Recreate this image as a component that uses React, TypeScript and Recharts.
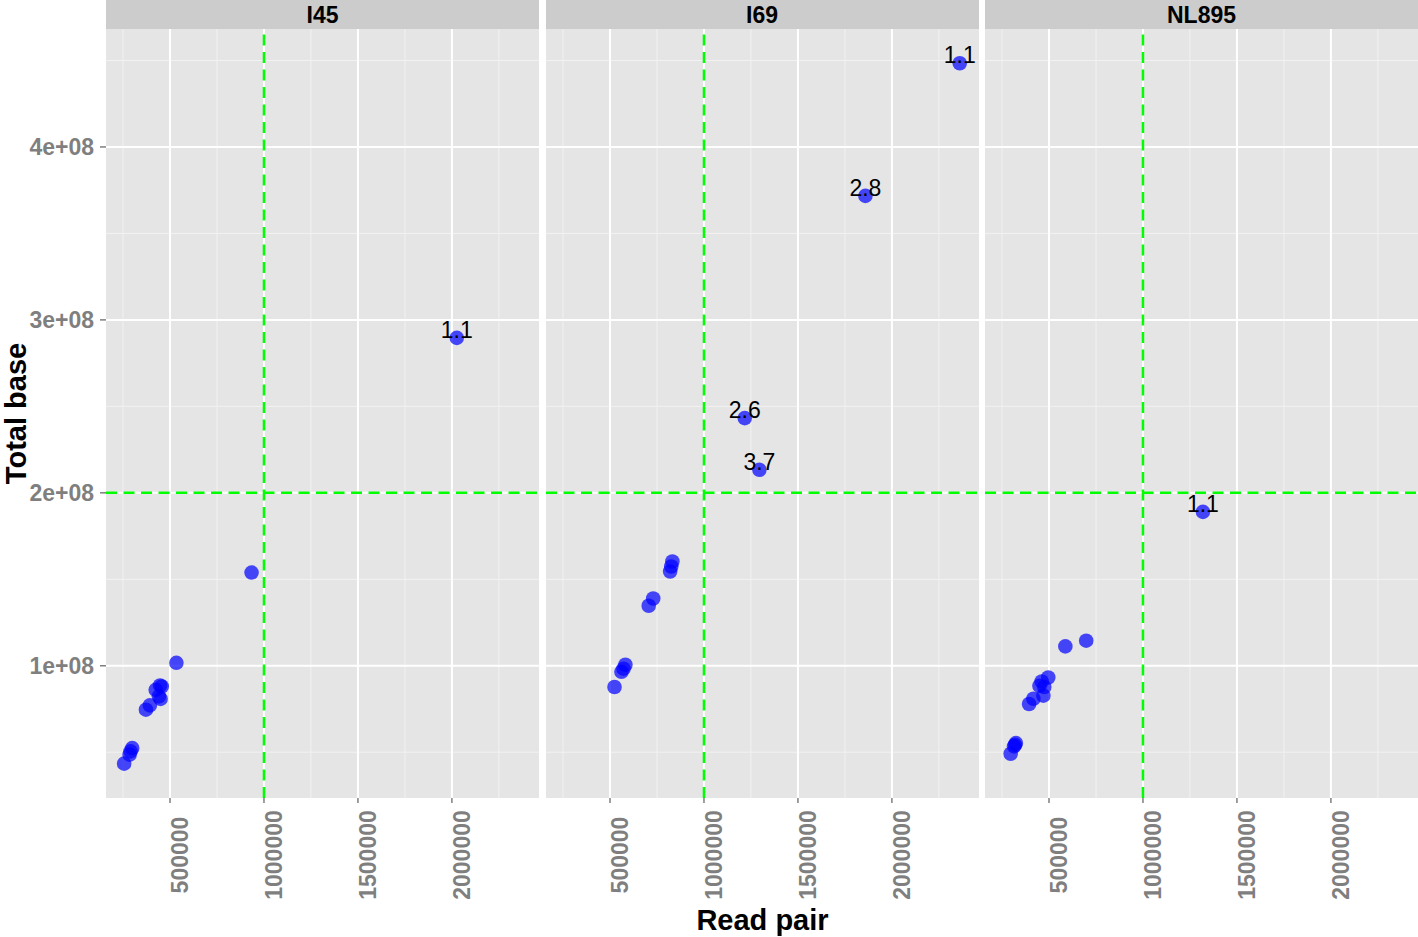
import { CartesianGrid, Label, ReferenceLine, Scatter, ScatterChart, XAxis, YAxis } from "recharts"

const FONT = '"Liberation Sans", Arial, Helvetica, sans-serif'

// ── Facets ────────────────────────────────────────────────────────
const facetNames = ["I45", "I69", "NL895"]

const i45ReadPair = [256000, 285000, 290000, 299000, 372000, 393000, 424000, 447000, 456000, 441000, 450000, 534000, 934000, 2026000]
const i45TotalBase = [43400000, 48600000, 50500000, 52400000, 74600000, 77100000, 86100000, 88600000, 88000000, 82300000, 80800000, 101700000, 153900000, 289600000]
const i45Labels = ["", "", "", "", "", "", "", "", "", "", "", "", "", "1.1"]

const i69ReadPair = [524000, 561000, 572000, 582000, 706000, 730000, 820000, 826000, 832000, 1217000, 1295000, 1859000, 2361000]
const i69TotalBase = [87700000, 96500000, 98300000, 100600000, 134700000, 138900000, 154500000, 157400000, 160300000, 243200000, 213300000, 371700000, 448400000]
const i69Labels = ["", "", "", "", "", "", "", "", "", "2.6", "3.7", "2.8", "1.1"]

const nl895ReadPair = [296000, 314000, 319000, 324000, 394000, 417000, 449000, 461000, 470000, 475000, 496000, 587000, 698000, 1319000]
const nl895TotalBase = [49100000, 53400000, 54300000, 55300000, 77900000, 80900000, 88400000, 90900000, 82700000, 87700000, 93200000, 111200000, 114500000, 189000000]
const nl895Labels = ["", "", "", "", "", "", "", "", "", "", "", "", "", "1.1"]

// ── Axes ──────────────────────────────────────────────────────────
const xDomain = [159450, 2463450]
const yDomain = [23530000, 468200000]
const xTicks = [500000, 1000000, 1500000, 2000000]
const xMinor = [250000, 750000, 1250000, 1750000, 2250000]
const yTicks = [100000000, 200000000, 300000000, 400000000]
const yTickLabels = ["1e+08", "2e+08", "3e+08", "4e+08"]
const yMinor = [50000000, 150000000, 250000000, 350000000, 450000000]
const xCutoff = 1000000
const yCutoff = 200000000

const buildPoints = (xs: number[], ys: number[], labels: string[]) =>
    xs.map((x, i) => ({ x, y: ys[i], label: labels[i] }))

const facetData = [
    buildPoints(i45ReadPair, i45TotalBase, i45Labels),
    buildPoints(i69ReadPair, i69TotalBase, i69Labels),
    buildPoints(nl895ReadPair, nl895TotalBase, nl895Labels),
]

// panel left positions (page px) and plot width
const PANEL_LEFT = [106, 545.5, 985]
const PANEL_W = 433
const TOP = 29
const X_AXIS_H = 139
const H = 937

const renderDot = (props: any) => {
    const { cx, cy, payload } = props
    return (
        <g>
            <circle cx={cx} cy={cy} r={7.3} fill="#0000ff" fillOpacity={0.7} />
            {payload.label ? (
                <text x={cx} y={cy} textAnchor="middle" fontSize={23} fontFamily={FONT} fill="#000">
                    {payload.label}
                </text>
            ) : null}
        </g>
    )
}

const XTick = (props: any) => {
    const { x, y, payload } = props
    const cy = y + 50
    return (
        <text
            x={x}
            y={cy}
            dy={18}
            transform={`rotate(-90, ${x}, ${cy})`}
            textAnchor="middle"
            fill="#7f7f7f"
            fontSize={23}
            fontWeight="bold"
            fontFamily={FONT}
        >
            {payload.value}
        </text>
    )
}

function Panel({ index }: { index: number }) {
    const first = index === 0
    const left = first ? 0 : PANEL_LEFT[index]
    const width = first ? PANEL_LEFT[0] + PANEL_W : PANEL_W
    return (
        <div style={{ position: "absolute", left, top: 0, width, height: H }}>
            <ScatterChart width={width} height={H} margin={{ top: TOP, right: 0, bottom: 0, left: 0 }}>
                <CartesianGrid horizontal={false} vertical={false} fill="#e5e5e5" fillOpacity={1} />
                <XAxis
                    type="number"
                    dataKey="x"
                    domain={xDomain}
                    ticks={xTicks}
                    allowDataOverflow
                    height={X_AXIS_H}
                    axisLine={false}
                    tickLine={{ stroke: "#7f7f7f", strokeWidth: 1.5 }}
                    tickSize={5}
                    tick={<XTick />}
                    interval={0}
                >
                    {index === 1 ? (
                        <Label
                            value="Read pair"
                            position="insideBottom"
                            offset={7}
                            style={{ fontSize: 29, fontWeight: "bold", fontFamily: FONT, fill: "#000" }}
                        />
                    ) : null}
                </XAxis>
                <YAxis
                    type="number"
                    dataKey="y"
                    domain={yDomain}
                    ticks={yTicks}
                    allowDataOverflow
                    hide={!first}
                    width={PANEL_LEFT[0]}
                    axisLine={false}
                    tickLine={{ stroke: "#7f7f7f", strokeWidth: 1.5 }}
                    tickSize={6}
                    tickMargin={6}
                    interval={0}
                    tickFormatter={(v: number) => yTickLabels[yTicks.indexOf(v)]}
                    tick={{ fill: "#7f7f7f", fontSize: 23, fontWeight: "bold", fontFamily: FONT }}
                >
                    {first ? (
                        <Label
                            value="Total base"
                            angle={-90}
                            position="insideLeft"
                            offset={16}
                            style={{ textAnchor: "middle", fontSize: 29, fontWeight: "bold", fontFamily: FONT, fill: "#000" }}
                        />
                    ) : null}
                </YAxis>
                {xMinor.map(v => (
                    <ReferenceLine key={`xm${v}`} x={v} stroke="#f2f2f2" strokeWidth={1} />
                ))}
                {yMinor.map(v => (
                    <ReferenceLine key={`ym${v}`} y={v} stroke="#f2f2f2" strokeWidth={1} />
                ))}
                {xTicks.map(v => (
                    <ReferenceLine key={`xt${v}`} x={v} stroke="#ffffff" strokeWidth={2} />
                ))}
                {yTicks.map(v => (
                    <ReferenceLine key={`yt${v}`} y={v} stroke="#ffffff" strokeWidth={2} />
                ))}
                <ReferenceLine x={xCutoff} stroke="#00ff00" strokeWidth={2.5} strokeDasharray="11 6.5" />
                <ReferenceLine y={yCutoff} stroke="#00ff00" strokeWidth={2.5} strokeDasharray="11 6.5" />
                <Scatter data={facetData[index]} shape={renderDot} isAnimationActive={false} />
            </ScatterChart>
        </div>
    )
}

export default function App() {
    return (
        <div style={{ position: "absolute", left: 0, top: 0, width: 1418, height: H, background: "#fff", fontFamily: FONT }}>
            {facetNames.map((name, i) => (
                <div
                    key={name}
                    style={{
                        position: "absolute",
                        left: PANEL_LEFT[i],
                        top: 0,
                        width: PANEL_W,
                        height: TOP,
                        background: "#cccccc",
                        color: "#000",
                        fontSize: 23,
                        fontWeight: "bold",
                        lineHeight: `${TOP + 2}px`,
                        textAlign: "center",
                    }}
                >
                    {name}
                </div>
            ))}
            {facetNames.map((name, i) => (
                <Panel key={name} index={i} />
            ))}
        </div>
    )
}
